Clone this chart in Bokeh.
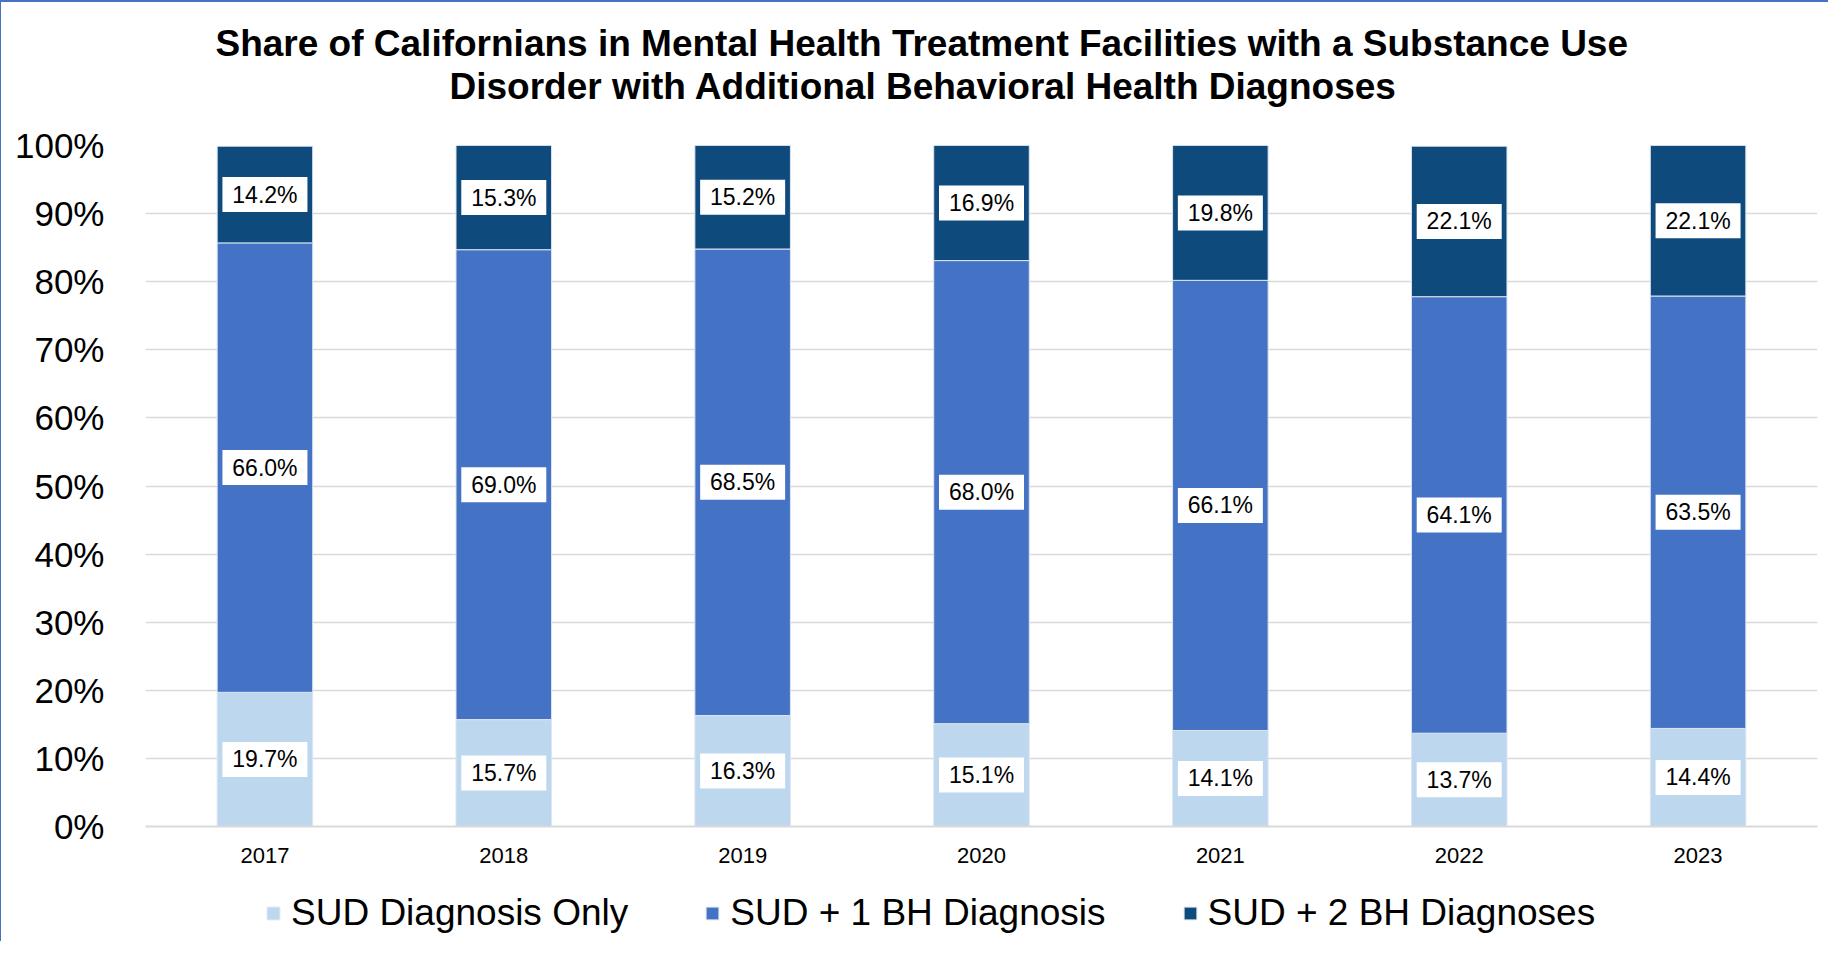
from bokeh.plotting import figure
from bokeh.layouts import column
from bokeh.models import (ColumnDataSource, FixedTicker, Legend, LegendItem, Title,
                          Range1d, FactorRange)
from bokeh.core.properties import value
from bokeh.embed import file_html
from bokeh.resources import INLINE

# ---------------- data ----------------
years = ["2017", "2018", "2019", "2020", "2021", "2022", "2023"]
sud_only = [19.7, 15.7, 16.3, 15.1, 14.1, 13.7, 14.4]
sud_1bh = [66.0, 69.0, 68.5, 68.0, 66.1, 64.1, 63.5]
sud_2bh = [14.2, 15.3, 15.2, 16.9, 19.8, 22.1, 22.1]
series_names = ["SUD Diagnosis Only", "SUD + 1 BH Diagnosis", "SUD + 2 BH Diagnoses"]
y_ticks = [0, 10, 20, 30, 40, 50, 60, 70, 80, 90, 100]
title_lines = ["Share of Californians in Mental Health Treatment Facilities with a Substance Use",
               "Disorder with Additional Behavioral Health Diagnoses"]

colors = ["#BDD7EE", "#4472C4", "#0E4A7C"]
FONT = "Liberation Sans"

series = [sud_only, sud_1bh, sud_2bh]
data = {"year": years}
for name, vals in zip(series_names, series):
    data[name] = vals
src = ColumnDataSource(data)

p = figure(x_range=FactorRange(*years), y_range=Range1d(0, 100),
           frame_width=1672, frame_height=681, output_backend="svg", toolbar_location=None,
           min_border_left=144, min_border_right=11, min_border_top=143,
           min_border_bottom=55)
p.outline_line_color = None
p.background_fill_color = "white"
p.border_fill_color = "white"

renderers = p.vbar_stack(series_names, x="year", width=0.4, color=colors,
                         line_color="#DDE5F0", line_width=1, source=src)

# data labels
lx, ly, lt = [], [], []
for i, y in enumerate(years):
    base = 0.0
    for vals in series:
        v = vals[i]
        lx.append(y)
        ly.append(base + v / 2.0)
        lt.append(f"{v:.1f}%")
        base += v
lsrc = ColumnDataSource(dict(x=lx, y=ly, t=lt))
p.rect(x="x", y="y", width=85, height=35, width_units="screen", height_units="screen",
       fill_color="white", line_color=None, source=lsrc)
p.text(x="x", y="y", text="t", text_align="center", text_baseline="middle",
       text_font=value(FONT), text_font_size="23px", text_color="#000000", source=lsrc)

# axes
p.yaxis.ticker = FixedTicker(ticks=y_ticks)
p.yaxis.major_label_overrides = {t: f"{t}%" for t in y_ticks}
p.yaxis.major_label_text_font = FONT
p.yaxis.major_label_text_font_size = "35px"
p.yaxis.major_label_text_color = "#000000"
p.yaxis.axis_line_color = None
p.yaxis.major_tick_line_color = None
p.yaxis.minor_tick_line_color = None
p.yaxis.major_label_standoff = 35

p.xaxis.major_label_text_font = FONT
p.xaxis.major_label_text_font_size = "22px"
p.xaxis.major_label_text_color = "#000000"
p.xaxis.axis_line_color = "#D9D9D9"
p.xaxis.axis_line_width = 2
p.xaxis.major_tick_line_color = None
p.xaxis.minor_tick_line_color = None
p.xaxis.major_tick_out = 0
p.xaxis.major_tick_in = 0
p.xaxis.minor_tick_out = 0
p.xaxis.minor_tick_in = 0
p.xaxis.axis_label_standoff = 0
p.xaxis.major_label_standoff = 21

p.xgrid.grid_line_color = None
p.ygrid.grid_line_color = "#D9D9D9"
p.ygrid.grid_line_width = 1.5

# title: two lines, nearest-to-frame first
p.add_layout(Title(text=title_lines[1], align="left", offset=304, standoff=78,
                   text_font=FONT, text_font_size="37px", text_font_style="bold",
                   text_color="#000000"), "above")
p.add_layout(Title(text=title_lines[0], align="left", offset=70, standoff=-78,
                   text_font=FONT, text_font_size="37px", text_font_style="bold",
                   text_color="#000000"), "above")

# legend strip (separate figure below the chart; its bars lie outside its view)
pl = figure(width=1827, height=60, x_range=FactorRange(*years), y_range=Range1d(200, 201),
            output_backend="svg", toolbar_location=None,
            x_axis_location=None, y_axis_location=None, min_border=0)
pl.outline_line_color = None
pl.grid.visible = False
pl.background_fill_color = "white"
pl.border_fill_color = "white"
swatches = pl.vbar_stack(series_names, x="year", width=0.4, color=colors,
                         line_color="#DDE5F0", line_width=1, source=src)
legend = Legend(items=[LegendItem(label=n, renderers=[r]) for n, r in zip(series_names, swatches)],
                orientation="horizontal", location=(120, 7),
                label_text_font=FONT, label_text_font_size="37px", label_text_color="#000000",
                glyph_width=16, glyph_height=16, label_standoff=10, spacing=76,
                padding=0, margin=0, border_line_color=None, background_fill_alpha=0)
pl.add_layout(legend, "center")

page = column(p, pl, spacing=0)
page.styles = {"border-left": "1px solid #4472C4", "border-top": "2px solid #4472C4"}

open("out.html", "w").write(file_html(page, INLINE))
